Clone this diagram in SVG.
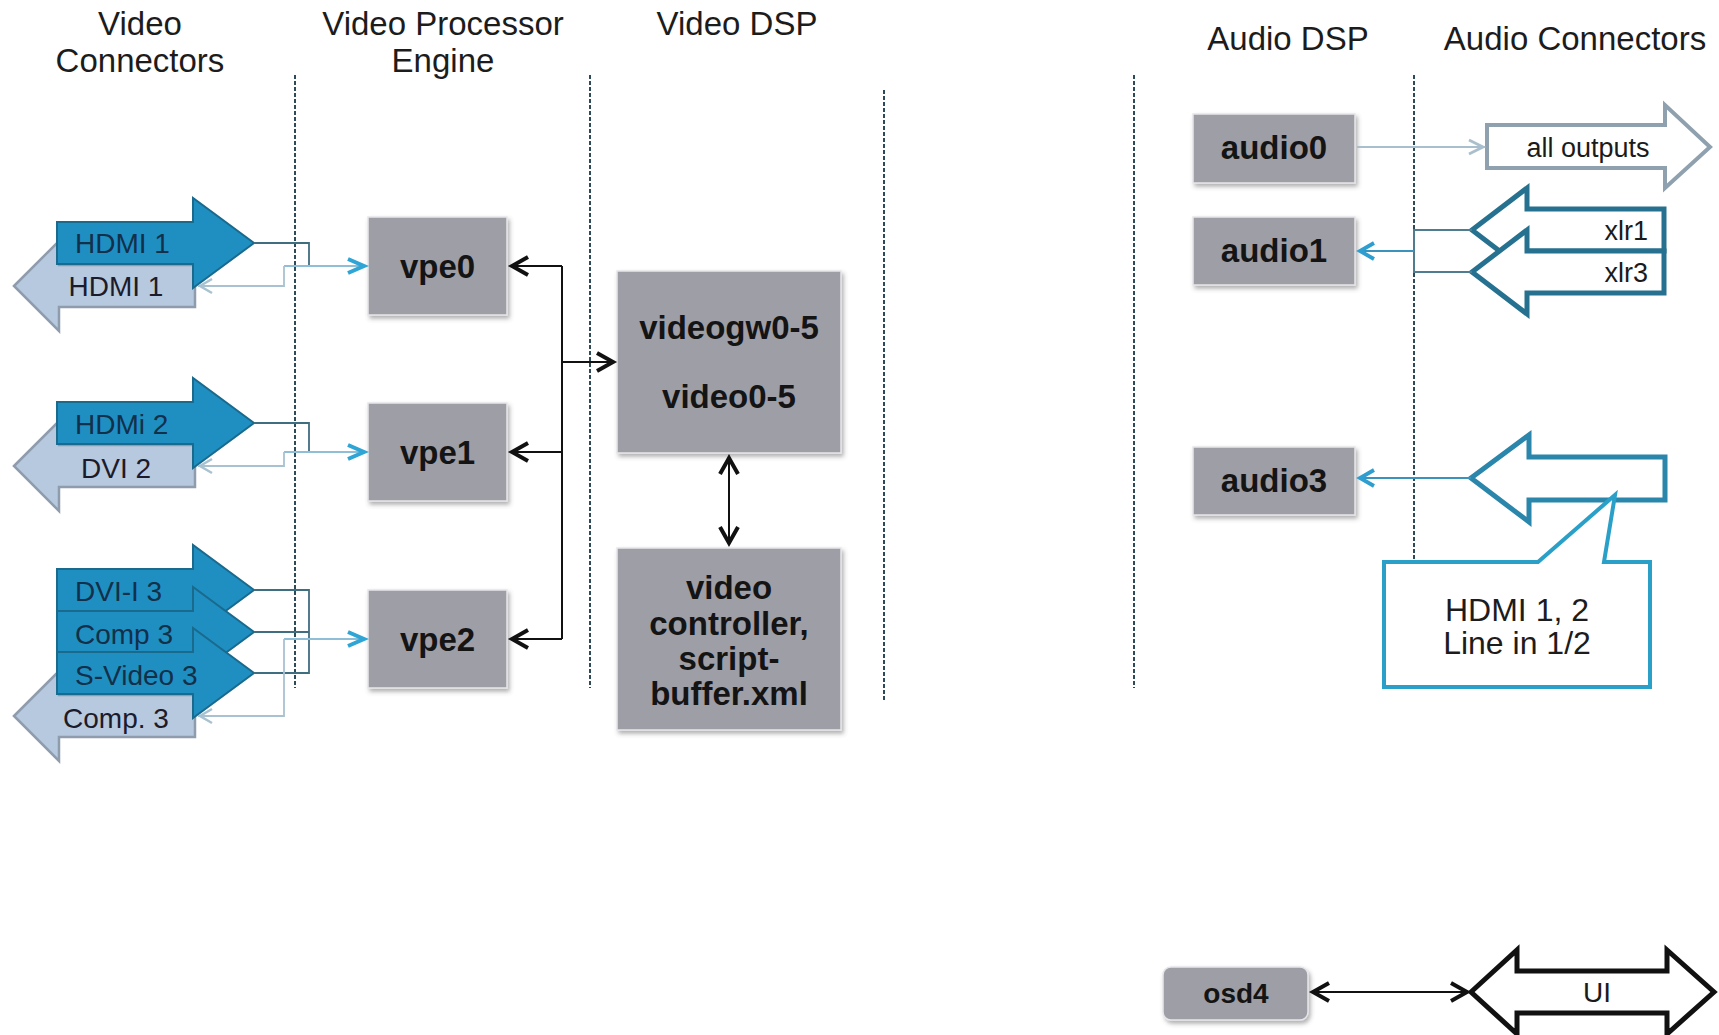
<svg xmlns="http://www.w3.org/2000/svg" width="1719" height="1035" viewBox="0 0 1719 1035">
  <defs>
    <style>
      .hdr { font-family: "Liberation Sans", Arial, sans-serif; font-size: 33px; fill: #1c1c1c; text-anchor: middle; }
      .box { fill: #9e9ea7; stroke: #e6e6ea; stroke-width: 1.5; filter: url(#shadow); }
      .boxtxt { font-family: "Liberation Sans", Arial, sans-serif; font-weight: bold; font-size: 33px; fill: #141414; text-anchor: middle; }
      .sep { stroke: #2d4a58; stroke-width: 2; stroke-dasharray: 4 2; fill: none; }
      .inArrow { fill: #1f8fc2; stroke: #1a6a8e; stroke-width: 2; }
      .outArrow { fill: #b7c9de; stroke: #8e9cad; stroke-width: 2.5; }
      .conTxt { font-family: "Liberation Sans", Arial, sans-serif; font-size: 28px; fill: #12304a; }
      .outTxt { font-family: "Liberation Sans", Arial, sans-serif; font-size: 28px; fill: #1b1b2b; text-anchor: middle; }
      .audTxt { font-family: "Liberation Sans", Arial, sans-serif; font-size: 27px; fill: #1b1b1b; }
      .w-dark { fill: none; stroke: #3f6e80; stroke-width: 1.8; }
      .w-in { fill: none; stroke: #8fbfd6; stroke-width: 1.8; }
      .w-out { fill: none; stroke: #a8c2d2; stroke-width: 1.8; }
      .w-black { fill: none; stroke: #111; stroke-width: 2; }
      .w-audio { fill: none; stroke: #3a93bd; stroke-width: 2; }
      .w-bracket { fill: none; stroke: #4f7d8f; stroke-width: 2; }
      .w-allout { fill: none; stroke: #aabfcd; stroke-width: 2; }
    </style>
    <filter id="shadow" x="-10%" y="-10%" width="125%" height="130%">
      <feDropShadow dx="2" dy="3" stdDeviation="2" flood-color="#555" flood-opacity="0.45"/>
    </filter>
    <!-- open chevron heads; the path tip sits at the line end -->
    <marker id="mBlack" markerUnits="userSpaceOnUse" markerWidth="26" markerHeight="26" refX="21" refY="12" orient="auto-start-reverse">
      <path d="M3,3 L19,12 L3,21" fill="none" stroke="#111" stroke-width="4"/>
    </marker>
    <marker id="mBlue" markerUnits="userSpaceOnUse" markerWidth="26" markerHeight="26" refX="21" refY="12" orient="auto">
      <path d="M3,5 L19,12 L3,19" fill="none" stroke="#2fa5d6" stroke-width="4"/>
    </marker>
    <marker id="mLight" markerUnits="userSpaceOnUse" markerWidth="24" markerHeight="24" refX="16" refY="10" orient="auto">
      <path d="M2,3 L14,10 L2,17" fill="none" stroke="#a8c2d2" stroke-width="2.5"/>
    </marker>
    <marker id="mAudio" markerUnits="userSpaceOnUse" markerWidth="24" markerHeight="24" refX="19" refY="11" orient="auto">
      <path d="M3,3 L17,11 L3,19" fill="none" stroke="#2e9dd0" stroke-width="3.8"/>
    </marker>
    <marker id="mAllOut" markerUnits="userSpaceOnUse" markerWidth="24" markerHeight="24" refX="18" refY="10" orient="auto">
      <path d="M2,3 L16,10 L2,17" fill="none" stroke="#aabfcd" stroke-width="2.8"/>
    </marker>
  </defs>

  <rect width="1719" height="1035" fill="#ffffff"/>

  <!-- column headings -->
  <g id="headings">
    <text class="hdr" x="140" y="35">Video</text>
    <text class="hdr" x="140" y="72">Connectors</text>
    <text class="hdr" x="443" y="35">Video Processor</text>
    <text class="hdr" x="443" y="72">Engine</text>
    <text class="hdr" x="737" y="35">Video DSP</text>
    <text class="hdr" x="1288" y="50">Audio DSP</text>
    <text class="hdr" x="1575" y="50">Audio Connectors</text>
  </g>

  <!-- column separators -->
  <g id="separators">
    <line class="sep" x1="295" y1="75" x2="295" y2="688"/>
    <line class="sep" x1="590" y1="75" x2="590" y2="688"/>
    <line class="sep" x1="884" y1="90" x2="884" y2="700"/>
    <line class="sep" x1="1134" y1="75" x2="1134" y2="688"/>
    <line class="sep" x1="1414" y1="75" x2="1414" y2="562"/>
  </g>

  <!-- video connectors: HDMI 1 -->
  <g id="con-hdmi1">
    <polygon class="outArrow" points="14,286 59,241 59,265 195,265 195,307 59,307 59,331"/>
    <polygon class="inArrow" points="57,222 193,222 193,198 254,243 193,288 193,264 57,264"/>
    <text class="conTxt" x="75" y="253">HDMI 1</text>
    <text class="outTxt" x="116" y="296">HDMI 1</text>
  </g>

  <!-- video connectors: HDMi 2 / DVI 2 -->
  <g id="con-hdmi2">
    <polygon class="outArrow" points="14,466 59,421 59,445 195,445 195,487 59,487 59,511"/>
    <polygon class="inArrow" points="57,402 193,402 193,378 254,423 193,468 193,444 57,444"/>
    <text class="conTxt" x="75" y="434">HDMi 2</text>
    <text class="outTxt" x="116" y="478">DVI 2</text>
  </g>

  <!-- video connectors: input 3 group -->
  <g id="con-in3">
    <polygon class="outArrow" points="14,716 59,671 59,695 195,695 195,737 59,737 59,761"/>
    <polygon class="inArrow" points="57,569 193,569 193,545 254,590 193,635 193,611 57,611"/>
    <polygon class="inArrow" points="57,611 193,611 193,587 254,632 193,677 193,653 57,653"/>
    <polygon class="inArrow" points="57,652 193,652 193,628 254,673 193,718 193,694 57,694"/>
    <text class="conTxt" x="75" y="601">DVI-I 3</text>
    <text class="conTxt" x="75" y="644">Comp 3</text>
    <text class="conTxt" x="75" y="685">S-Video 3</text>
    <text class="outTxt" x="116" y="728">Comp. 3</text>
  </g>

  <!-- video processor engines -->
  <g id="vpe0">
    <rect class="box" x="368" y="217" width="139" height="98"/>
    <text class="boxtxt" x="437.5" y="278">vpe0</text>
  </g>
  <g id="vpe1">
    <rect class="box" x="368" y="403" width="139" height="98"/>
    <text class="boxtxt" x="437.5" y="464">vpe1</text>
  </g>
  <g id="vpe2">
    <rect class="box" x="368" y="590" width="139" height="98"/>
    <text class="boxtxt" x="437.5" y="651">vpe2</text>
  </g>

  <!-- video DSP -->
  <g id="videogw">
    <rect class="box" x="617" y="271" width="224" height="182"/>
    <text class="boxtxt" x="729" y="339">videogw0-5</text>
    <text class="boxtxt" x="729" y="408">video0-5</text>
  </g>
  <g id="video-controller">
    <rect class="box" x="617" y="548" width="224" height="182"/>
    <text class="boxtxt" x="729" y="599">video</text>
    <text class="boxtxt" x="729" y="635">controller,</text>
    <text class="boxtxt" x="729" y="670">script-</text>
    <text class="boxtxt" x="729" y="705">buffer.xml</text>
  </g>

  <!-- audio DSP -->
  <g id="audio0">
    <rect class="box" x="1193" y="114" width="162" height="69"/>
    <text class="boxtxt" x="1274" y="159">audio0</text>
  </g>
  <g id="audio1">
    <rect class="box" x="1193" y="217" width="162" height="68"/>
    <text class="boxtxt" x="1274" y="262">audio1</text>
  </g>
  <g id="audio3">
    <rect class="box" x="1193" y="447" width="162" height="68"/>
    <text class="boxtxt" x="1274" y="492">audio3</text>
  </g>
  <g id="osd4">
    <rect class="box" x="1163" y="967" width="145" height="53" rx="8"/>
    <text class="boxtxt" x="1236" y="1003" style="font-size:28px">osd4</text>
  </g>

  <!-- audio connectors -->
  <g id="con-alloutputs">
    <polygon points="1487,125 1665,125 1665,105 1710,147 1665,188 1665,168 1487,168" fill="#fff" stroke="#8fa0ae" stroke-width="4"/>
    <text class="audTxt" x="1588" y="157" text-anchor="middle">all outputs</text>
  </g>
  <g id="con-xlr">
    <polygon points="1472,230 1527,188 1527,209 1664,209 1664,251 1527,251 1527,272" fill="#fff" stroke="#26718f" stroke-width="5"/>
    <polygon points="1472,272 1527,230 1527,251 1664,251 1664,293 1527,293 1527,314" fill="#fff" stroke="#26718f" stroke-width="5"/>
    <text class="audTxt" x="1648" y="240" text-anchor="end">xlr1</text>
    <text class="audTxt" x="1648" y="282" text-anchor="end">xlr3</text>
  </g>
  <g id="con-hdmi-line">
    <polygon points="1471,478 1529,435 1529,457 1665,457 1665,500 1529,500 1529,522" fill="#fff" stroke="#2b86ab" stroke-width="5"/>
  </g>
  <g id="note-hdmi-line">
    <polygon points="1384,562 1538,562 1615,495 1604,562 1650,562 1650,687 1384,687" fill="#fff" stroke="#2aa0c8" stroke-width="4"/>
    <text class="hdr" x="1517" y="621" style="font-size:32px">HDMI 1, 2</text>
    <text class="hdr" x="1517" y="654" style="font-size:32px">Line in 1/2</text>
  </g>
  <g id="con-ui">
    <polygon points="1471,992 1517,950 1517,971 1667,971 1667,950 1714,992 1667,1034 1667,1013 1517,1013 1517,1034" fill="#fff" stroke="#111" stroke-width="5"/>
    <text class="audTxt" x="1597" y="1002" text-anchor="middle" style="font-size:28px">UI</text>
  </g>

  <!-- connectors -->
  <g id="connectors">
    <!-- HDMI 1 / vpe0 -->
    <path class="w-dark" d="M254,243 H309 V266"/>
    <path class="w-in" d="M284,266 H366" marker-end="url(#mBlue)"/>
    <path class="w-out" d="M284,266 V286 H198" marker-end="url(#mLight)"/>
    <!-- HDMi 2 / vpe1 -->
    <path class="w-dark" d="M254,423 H309 V452"/>
    <path class="w-in" d="M284,452 H366" marker-end="url(#mBlue)"/>
    <path class="w-out" d="M284,452 V466 H198" marker-end="url(#mLight)"/>
    <!-- input 3 group / vpe2 -->
    <path class="w-dark" d="M254,590 H309 V673 H254 M254,632 H309"/>
    <path class="w-in" d="M284,639 H366" marker-end="url(#mBlue)"/>
    <path class="w-out" d="M284,639 V716 H198" marker-end="url(#mLight)"/>
    <!-- vpe bus to video DSP -->
    <path class="w-black" d="M562,266 V639"/>
    <path class="w-black" d="M562,266 H510" marker-end="url(#mBlack)"/>
    <path class="w-black" d="M562,452 H510" marker-end="url(#mBlack)"/>
    <path class="w-black" d="M562,639 H510" marker-end="url(#mBlack)"/>
    <path class="w-black" d="M562,362 H615" marker-end="url(#mBlack)"/>
    <path class="w-black" d="M729,456 V545" marker-start="url(#mBlack)" marker-end="url(#mBlack)"/>
    <!-- audio -->
    <path class="w-allout" d="M1357,147 H1485" marker-end="url(#mAllOut)"/>
    <path class="w-bracket" d="M1472,230 H1414 V272 H1472"/>
    <path class="w-audio" d="M1414,251 H1358" marker-end="url(#mAudio)"/>
    <path class="w-audio" d="M1471,478 H1358" marker-end="url(#mAudio)"/>
    <!-- osd -->
    <path class="w-black" d="M1311,992 H1469" marker-start="url(#mBlack)" marker-end="url(#mBlack)"/>
  </g>
</svg>
